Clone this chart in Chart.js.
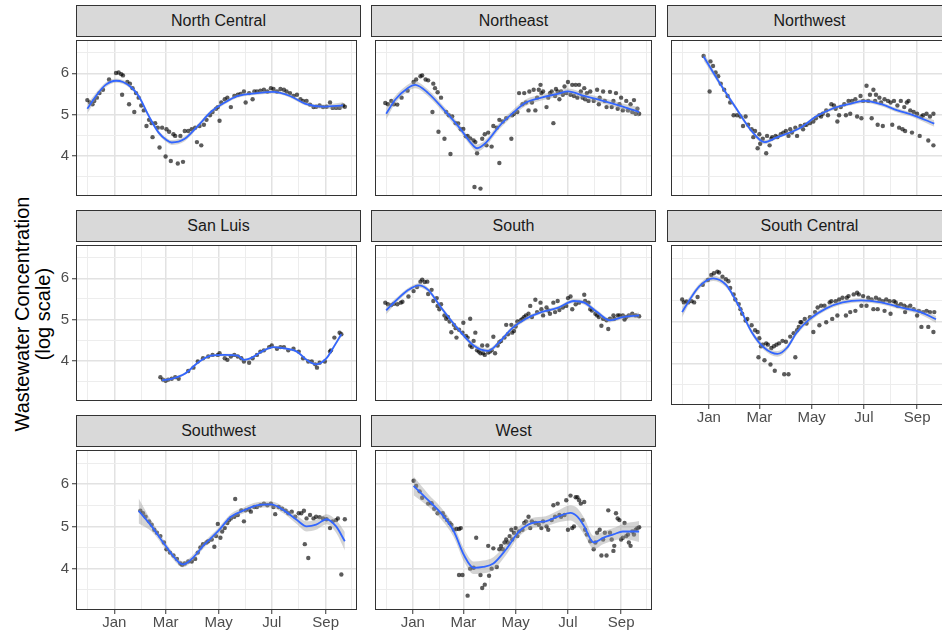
<!DOCTYPE html>
<html>
<head>
<meta charset="utf-8">
<script src="https://cdn.jsdelivr.net/npm/chart.js@4.4.0/dist/chart.umd.min.js"></script>
<style>
html, body { margin: 0; padding: 0; background: #fff; overflow: hidden; }
#wrap { position: relative; width: 942px; height: 636px; overflow: hidden; font-family: 'Liberation Sans', Arial, sans-serif; }
.strip { position: absolute; box-sizing: border-box; height: 32px; background: #D9D9D9; border: 1px solid #333;
         color: #1A1A1A; font-size: 16px; text-align: center; line-height: 30px; }
canvas { position: absolute; }
#ytitle { position: absolute; left: 33px; top: 314px; transform: translate(-50%, -50%) rotate(-90deg);
          font-size: 20px; line-height: 21px; text-align: center; white-space: nowrap; color: #000; }
</style>
</head>
<body>
<div id="wrap">
  <div id="ytitle">Wastewater Concentration<br>(log scale)</div>
</div>
<script>
// ── Data: x = days since 1 Jan 2022, y = log concentration ─────────────────
const monthDays   = [-31, 0, 31, 59, 90, 120, 151, 181, 212, 243, 273];
const monthLabels = ['', 'Jan', '', 'Mar', '', 'May', '', 'Jul', '', 'Sep', ''];
const yGrid       = [3.5, 4, 4.5, 5, 5.5, 6, 6.5];
const yLabels     = ['', '4', '', '5', '', '6', ''];

// North Central
const ncDays = [-31,-28,-25,-23,-20,-17,-13,-6,2,5,8,10,9,15,18,17,21,23,25,28,31,34,37,40,43,44,47,50,52,55,59,60,63,65,68,70,73,76,79,81,85,89,93,95,98,100,103,106,110,113,117,121,119,123,127,130,134,138,142,145,149,151,155,159,161,164,168,172,176,180,183,187,191,195,198,202,206,210,214,217,221,225,229,232,236,240,244,248,251,255,259,263,265];
const ncVals = [5.35,5.29,5.25,5.33,5.41,5.52,5.60,5.85,6.01,6.02,5.98,5.95,5.48,5.79,5.75,5.25,5.64,5.06,5.52,5.41,5.22,5.10,4.72,4.87,4.79,4.45,4.79,4.68,4.20,4.68,3.98,4.64,4.58,3.87,4.52,4.48,3.81,4.48,3.85,4.60,4.60,4.64,4.68,4.33,4.72,4.25,4.75,4.87,4.98,5.06,5.14,4.85,5.18,5.29,5.37,5.41,5.18,5.45,5.48,5.50,5.56,5.29,5.52,5.37,5.56,5.56,5.58,5.60,5.56,5.64,5.62,5.56,5.62,5.60,5.56,5.52,5.45,5.48,5.37,5.33,5.33,5.24,5.18,5.19,5.22,5.18,5.19,5.29,5.16,5.16,5.16,5.22,5.19];
const ncFitDays = [-31,-20,-10,2,10,20,28,40,51,60,66,81,96,111,127,142,164,183,202,221,240,263];
const ncFit     = [5.14,5.48,5.72,5.82,5.79,5.65,5.45,4.95,4.56,4.38,4.32,4.41,4.72,5.06,5.29,5.45,5.52,5.55,5.45,5.25,5.19,5.22];
const ncBand    = [0.12,0.07,0.06,0.05,0.05,0.05,0.05,0.05,0.05,0.05,0.06,0.06,0.05,0.05,0.04,0.04,0.04,0.04,0.04,0.04,0.05,0.08];

// Northeast
const neDays = [-32,-29,-25,-22,-18,-13,-6,1,4,9,11,15,18,23,24,26,29,30,33,37,39,42,44,46,50,53,56,59,62,64,67,71,73,75,72,79,81,84,86,88,92,94,98,101,101,105,109,115,116,118,122,124,128,130,132,135,136,139,141,143,145,147,149,150,152,156,158,160,162,164,166,167,169,171,173,175,177,179,181,184,186,188,190,192,194,196,198,200,201,203,205,207,211,215,217,218,222,224,226,230,232,234,237,239,241,243,245,249,251,254,256,258,260,262,264];
const neVals = [5.28,5.25,5.33,5.25,5.24,5.41,5.58,5.79,5.85,5.93,5.95,5.85,5.83,5.06,5.75,5.64,5.54,4.58,5.41,4.41,5.06,4.98,4.04,4.95,4.79,4.78,4.64,4.65,4.47,4.48,4.42,4.37,4.33,4.06,3.24,3.20,4.41,4.52,4.25,4.56,4.22,4.72,4.68,3.82,4.87,4.83,4.91,4.41,4.98,5.02,5.06,5.52,5.25,5.52,5.29,5.10,5.56,5.29,5.60,5.10,5.41,5.60,5.72,5.52,5.56,5.18,5.41,5.52,5.56,4.79,5.45,5.62,5.56,5.37,5.56,5.48,5.68,5.52,5.79,5.48,5.72,5.45,5.72,5.41,5.72,5.56,5.41,5.64,5.37,5.52,5.33,5.56,5.33,5.60,5.25,5.41,5.56,5.33,5.18,5.55,5.18,5.33,5.52,5.14,5.25,5.41,5.10,5.33,5.10,5.25,5.06,5.35,5.02,5.14,5.02];
const neFitDays = [-31,-20,-6,3,18,37,56,67,75,86,101,116,132,150,169,181,200,222,245,264];
const neFit     = [5.02,5.37,5.64,5.72,5.52,5.10,4.64,4.33,4.18,4.33,4.72,5.02,5.29,5.41,5.50,5.56,5.45,5.33,5.19,5.06];
const neBand    = [0.14,0.09,0.08,0.08,0.08,0.08,0.08,0.08,0.09,0.08,0.08,0.08,0.08,0.07,0.07,0.07,0.07,0.07,0.08,0.12];

// Northwest
const nwDays = [-6,1,2,5,8,11,14,18,22,25,29,33,37,40,43,46,50,52,54,57,59,60,63,67,68,71,73,74,78,80,84,87,90,93,95,97,101,103,107,110,112,114,118,122,125,129,131,133,137,139,143,146,148,150,152,154,158,160,163,165,167,171,173,177,178,180,184,186,188,190,192,194,195,197,199,201,203,205,209,212,214,216,220,222,224,226,228,229,231,233,235,237,239,243,246,248,250,254,256,258,262,262];
const nwVals = [6.42,5.56,6.29,6.18,6.02,5.93,5.75,5.60,5.45,5.29,4.98,4.98,4.95,4.72,4.95,4.75,4.64,4.45,4.60,4.18,4.52,4.29,4.41,4.06,4.48,4.25,4.41,4.45,4.48,4.45,4.52,4.56,4.60,4.48,4.64,4.56,4.68,4.48,4.72,4.64,4.75,4.75,4.79,4.83,4.91,4.98,4.95,5.02,5.10,4.98,5.25,5.22,5.14,4.83,4.98,5.18,5.25,4.98,5.33,5.02,5.33,5.37,4.95,5.45,4.91,5.33,5.70,5.33,5.48,4.91,5.60,5.33,5.48,4.75,5.41,5.29,4.72,5.37,5.33,5.29,4.75,5.33,5.22,4.68,5.33,4.64,5.18,4.60,5.29,5.33,5.10,4.56,5.06,5.02,4.48,4.95,4.98,5.02,4.37,4.95,5.02,4.25];
const nwFitDays = [-6,12,31,50,65,80,107,125,144,163,182,201,220,239,263];
const nwFit     = [6.41,5.79,5.18,4.60,4.33,4.45,4.68,4.95,5.14,5.25,5.33,5.25,5.10,4.98,4.78];
const nwBand    = [0.10,0.06,0.05,0.05,0.05,0.04,0.04,0.04,0.04,0.04,0.05,0.05,0.05,0.05,0.08];

// San Luis
const slDays = [53,56,59,62,66,70,74,85,91,96,102,108,113,119,121,127,130,134,138,142,146,149,155,159,164,168,172,178,181,187,191,195,200,206,212,217,223,227,231,233,236,242,248,249,253,259,261];
const slVals = [3.60,3.54,3.51,3.54,3.56,3.60,3.56,3.75,3.83,3.98,4.06,4.10,4.14,4.14,4.18,4.06,4.02,4.10,4.14,4.10,4.06,3.98,3.95,4.06,4.14,4.22,4.25,4.33,4.37,4.29,4.33,4.33,4.25,4.29,4.22,4.06,3.98,3.98,3.91,3.83,3.95,3.98,4.22,4.25,4.56,4.68,4.64];
const slFitDays = [55,66,81,96,111,127,142,149,157,172,183,198,210,221,232,244,251,261];
const slFit     = [3.52,3.56,3.68,3.95,4.12,4.14,4.12,4.02,4.06,4.25,4.33,4.29,4.22,4.02,3.91,4.06,4.29,4.64];
const slBand    = [0.05,0.03,0.03,0.03,0.03,0.03,0.03,0.03,0.03,0.03,0.03,0.03,0.03,0.03,0.03,0.03,0.04,0.06];

// South
const soDays = [-32,-29,-25,-22,-18,-14,-12,-5,1,5,9,11,14,17,18,22,24,28,29,31,33,37,39,41,43,45,48,50,51,54,58,59,62,64,67,67,69,71,73,75,77,79,81,82,84,87,88,90,92,94,96,99,101,103,107,109,111,115,116,118,120,122,126,128,130,132,135,137,139,143,145,149,150,152,156,158,160,164,166,169,171,175,179,181,184,186,190,194,200,201,205,207,209,213,215,217,220,222,226,228,230,234,235,239,241,245,247,249,252,256,260,264];
const soVals = [5.41,5.37,5.35,5.38,5.37,5.41,5.43,5.56,5.69,5.79,5.92,5.97,5.91,5.92,5.62,5.72,5.45,5.52,5.33,5.25,5.37,5.10,5.02,5.06,4.95,4.69,4.87,4.79,4.56,4.75,4.68,4.92,4.60,4.56,5.02,4.37,4.33,4.48,4.68,4.25,4.22,4.18,4.37,4.18,4.14,4.37,4.20,4.22,4.25,4.58,4.18,4.37,4.45,4.48,4.56,4.87,4.64,4.87,4.68,4.72,4.83,4.95,4.98,5.02,5.06,5.10,5.14,5.33,5.06,5.48,5.18,5.41,5.25,5.10,5.29,5.22,5.14,5.41,5.18,5.45,5.23,5.29,5.33,5.52,5.56,5.25,5.37,5.41,5.60,5.45,5.41,5.25,5.22,5.14,5.10,5.06,4.85,5.02,4.98,4.77,5.02,5.10,5.02,5.10,5.10,5.10,5.00,5.06,5.10,5.14,5.10,5.08];
const soFitDays = [-31,-20,-5,7,18,33,52,71,88,101,116,132,150,169,188,200,215,230,245,264];
const soFit     = [5.22,5.45,5.72,5.83,5.72,5.29,4.79,4.37,4.24,4.45,4.79,5.02,5.18,5.28,5.45,5.41,5.18,4.98,5.06,5.10];
const soBand    = [0.10,0.06,0.05,0.05,0.05,0.05,0.05,0.05,0.05,0.05,0.05,0.05,0.04,0.04,0.05,0.05,0.05,0.05,0.05,0.07];

// South Central
const scDays = [-31,-29,-26,-24,-20,-17,-13,-7,-1,3,6,10,12,16,20,23,25,29,31,35,37,39,43,45,50,54,57,58,59,61,63,65,67,69,72,73,76,77,79,82,86,88,90,93,95,99,101,103,105,107,108,112,114,118,122,124,127,129,131,135,137,141,143,144,148,150,152,156,160,161,163,165,169,171,173,175,178,180,184,186,190,192,195,197,199,203,205,207,211,212,216,218,220,224,228,229,231,235,239,243,245,248,250,254,256,258,262,263];
const scVals = [5.52,5.45,5.47,5.45,5.48,5.45,5.58,5.87,5.98,6.10,6.14,6.18,6.16,6.06,6.00,5.95,5.79,5.64,5.52,5.41,5.29,5.18,5.02,5.06,4.91,4.79,4.75,4.15,4.60,4.41,4.45,4.08,4.48,4.45,3.98,4.37,4.41,3.83,4.45,4.48,4.54,3.75,4.52,3.75,4.64,4.72,4.15,4.79,4.87,4.98,4.98,5.06,4.95,5.10,4.75,5.22,5.33,4.91,5.37,5.37,4.98,5.45,5.48,5.06,5.48,5.14,5.52,5.56,5.14,5.56,5.60,5.22,5.64,5.25,5.68,5.64,5.37,5.60,5.37,5.56,5.52,5.29,5.56,5.29,5.52,5.48,5.25,5.52,5.48,5.18,5.48,5.45,5.37,5.41,5.37,5.22,5.33,5.37,5.29,5.14,5.25,4.87,5.22,5.25,4.87,5.22,4.75,5.22];
const scFitDays = [-31,-22,-11,5,20,35,50,65,80,91,103,118,137,156,178,201,224,247,265];
const scFit     = [5.22,5.52,5.83,6.02,5.87,5.37,4.75,4.37,4.23,4.37,4.75,5.06,5.31,5.45,5.50,5.45,5.33,5.22,5.05];
const scBand    = [0.12,0.07,0.06,0.06,0.06,0.06,0.06,0.06,0.07,0.06,0.06,0.06,0.05,0.05,0.05,0.05,0.05,0.06,0.08];

// Southwest
const swDays = [30,33,36,40,43,46,49,53,57,60,64,68,72,76,78,81,85,89,93,96,99,102,106,108,112,115,117,119,122,124,127,130,132,134,138,139,142,146,149,151,155,157,161,164,168,172,176,180,183,185,189,193,197,200,204,208,212,215,218,219,221,223,225,229,232,236,240,244,248,251,255,257,261,265];
const swVals = [5.37,5.31,5.23,5.12,5.04,4.92,4.85,4.77,4.62,4.46,4.38,4.31,4.23,4.12,4.09,4.12,4.17,4.17,4.23,4.38,4.50,4.58,4.62,4.65,4.69,4.52,4.77,5.06,4.73,4.88,4.96,5.08,5.15,5.19,5.23,5.65,5.27,5.38,5.12,5.38,5.40,5.35,5.46,5.46,5.50,5.54,5.50,5.54,5.46,5.29,5.46,5.42,5.37,5.31,5.35,5.23,5.31,5.31,5.37,4.58,5.19,4.25,5.27,5.19,5.23,5.22,5.19,5.17,4.96,5.12,5.15,5.19,3.86,5.17];
const swFitDays = [28,43,59,74,79,89,104,119,134,149,164,180,195,210,221,232,244,255,265];
const swFit     = [5.37,5.00,4.54,4.15,4.10,4.23,4.58,4.88,5.23,5.38,5.50,5.52,5.38,5.15,5.00,5.04,5.17,5.00,4.65];
const swBand    = [0.30,0.12,0.08,0.07,0.07,0.07,0.07,0.07,0.07,0.07,0.07,0.07,0.08,0.10,0.12,0.12,0.12,0.15,0.22];

// West
const wDays = [1,4,8,11,18,22,25,29,35,37,40,43,45,48,51,54,56,54,58,64,67,71,74,79,81,84,88,89,92,94,98,101,103,105,107,109,111,113,115,116,118,120,122,124,128,130,132,135,137,139,143,147,150,152,156,158,162,164,166,169,171,173,177,179,181,184,186,188,190,192,194,196,198,200,201,203,207,211,213,215,218,220,222,224,226,228,230,232,234,235,237,239,241,243,245,247,249,251,252,254,256,258,260,262,264];
const wVals = [6.08,5.96,5.83,5.68,5.54,5.55,5.42,5.31,5.31,5.23,5.15,5.08,5.04,4.92,4.94,4.94,4.96,3.85,3.85,3.36,4.00,4.02,4.73,3.85,3.54,3.62,4.54,3.83,4.00,4.48,4.04,4.46,4.54,4.46,4.62,4.69,4.62,4.77,4.92,4.69,4.85,4.96,4.77,4.88,4.92,5.08,5.12,5.23,4.96,5.12,5.08,5.04,4.96,5.12,5.00,4.92,5.15,5.50,5.23,5.54,5.27,5.23,5.27,5.62,4.92,5.73,4.96,5.00,5.69,5.69,5.62,5.54,5.15,5.58,4.92,4.81,4.65,4.46,4.62,4.85,4.92,4.31,4.69,4.85,4.31,5.38,4.85,4.69,4.42,4.54,5.31,5.19,5.15,4.69,4.73,5.08,4.77,4.81,4.62,4.54,4.88,4.81,4.92,4.96,4.98];
const wFitDays = [1,18,33,48,60,71,82,94,109,124,139,155,169,184,192,200,211,222,234,245,264];
const wFit     = [5.96,5.62,5.31,4.88,4.31,4.02,4.04,4.12,4.46,4.88,5.08,5.12,5.23,5.32,5.23,5.00,4.62,4.73,4.81,4.88,4.88];
const wBand    = [0.22,0.15,0.14,0.14,0.15,0.15,0.15,0.15,0.13,0.12,0.12,0.12,0.14,0.18,0.20,0.20,0.16,0.15,0.15,0.18,0.25];

// ── Layout ────────────────────────────────────────────────────────────────
const COL_X = [76, 371, 667];
const ROW_Y = [5, 210, 415];
const STRIP_H = 31, PANEL_W = 285, PANEL_H = 164;
const X_MIN = -44, X_MAX = 279, Y_MIN = 3.02, Y_MAX = 6.81;
const FONT = "'Liberation Sans', Arial, sans-serif";

const panels = [
    { name: 'North Central', col: 0, row: 0, d: ncDays, v: ncVals, fd: ncFitDays, f: ncFit, b: ncBand },
    { name: 'Northeast',     col: 1, row: 0, d: neDays, v: neVals, fd: neFitDays, f: neFit, b: neBand },
    { name: 'Northwest',     col: 2, row: 0, d: nwDays, v: nwVals, fd: nwFitDays, f: nwFit, b: nwBand },
    { name: 'San Luis',      col: 0, row: 1, d: slDays, v: slVals, fd: slFitDays, f: slFit, b: slBand },
    { name: 'South',         col: 1, row: 1, d: soDays, v: soVals, fd: soFitDays, f: soFit, b: soBand },
    { name: 'South Central', col: 2, row: 1, d: scDays, v: scVals, fd: scFitDays, f: scFit, b: scBand, xLab: true },
    { name: 'Southwest',     col: 0, row: 2, d: swDays, v: swVals, fd: swFitDays, f: swFit, b: swBand, xLab: true },
    { name: 'West',          col: 1, row: 2, d: wDays,  v: wVals,  fd: wFitDays,  f: wFit,  b: wBand,  xLab: true },
];

const panelBorder = {
    id: 'panelBorder',
    afterDraw(chart) {
        const { ctx, chartArea: a } = chart;
        ctx.save();
        ctx.strokeStyle = '#333';
        ctx.lineWidth = 1;
        ctx.strokeRect(a.left + 0.5, a.top + 0.5, a.width - 1, a.height - 1);
        ctx.restore();
    },
};

const xy = (xs, ys) => xs.map((x, i) => ({ x, y: ys[i] })).filter(p => p.y !== undefined);
const isMajorX = v => monthLabels[monthDays.indexOf(v)] !== '';
const isMajorY = v => Number.isInteger(v);

function buildPanel(p) {
    const wrap = document.getElementById('wrap');
    const showY = p.col === 0, showX = !!p.xLab;
    const yw = showY ? 38 : 0, xh = showX ? 26 : 0;

    const strip = document.createElement('div');
    strip.className = 'strip';
    strip.style.left = COL_X[p.col] + 'px';
    strip.style.top = ROW_Y[p.row] + 'px';
    strip.style.width = PANEL_W + 'px';
    strip.textContent = p.name;
    wrap.appendChild(strip);

    const cv = document.createElement('canvas');
    cv.width = PANEL_W + yw;
    cv.height = PANEL_H + xh;
    cv.style.left = (COL_X[p.col] - yw) + 'px';
    cv.style.top = (ROW_Y[p.row] + STRIP_H) + 'px';
    wrap.appendChild(cv);

    const hi = p.f.map((y, i) => +(y + p.b[i]).toFixed(3));
    const lo = p.f.map((y, i) => +(y - p.b[i]).toFixed(3));

    new Chart(cv.getContext('2d'), {
        type: 'scatter',
        data: {
            datasets: [
                { type: 'line', data: xy(p.fd, p.f), borderColor: '#3366FF', borderWidth: 1.8, pointRadius: 0,
                  cubicInterpolationMode: 'monotone', fill: false, order: 0 },
                { type: 'line', data: xy(p.fd, hi), borderColor: 'rgba(0,0,0,0)', borderWidth: 0, pointRadius: 0,
                  cubicInterpolationMode: 'monotone', fill: '+1', backgroundColor: 'rgba(153,153,153,0.42)', order: 1 },
                { type: 'line', data: xy(p.fd, lo), borderColor: 'rgba(0,0,0,0)', borderWidth: 0, pointRadius: 0,
                  cubicInterpolationMode: 'monotone', fill: false, order: 1 },
                { type: 'scatter', data: xy(p.d, p.v), pointRadius: 2.2, pointBorderWidth: 0,
                  backgroundColor: 'rgba(0,0,0,0.64)', order: 2 },
            ],
        },
        options: {
            responsive: false, animation: false, events: [],
            layout: { padding: 0 },
            plugins: { legend: { display: false }, tooltip: { enabled: false } },
            scales: {
                x: {
                    type: 'linear', min: X_MIN, max: X_MAX,
                    afterBuildTicks: s => { s.ticks = monthDays.map(v => ({ value: v })); },
                    afterFit: s => { s.height = xh; s.paddingLeft = 0; s.paddingRight = 0; },
                    ticks: { display: showX, autoSkip: false, maxRotation: 0, padding: 0, color: '#4D4D4D',
                             font: { family: FONT, size: 15 },
                             callback: v => monthLabels[monthDays.indexOf(v)] ?? '' },
                    grid: { color: c => isMajorX(c.tick.value) ? '#E2E2E2' : '#EDEDED',
                            lineWidth: c => isMajorX(c.tick.value) ? 1.5 : 1,
                            drawTicks: showX, tickLength: 4, tickWidth: 1,
                            tickColor: c => isMajorX(c.tick.value) ? '#333' : 'rgba(0,0,0,0)' },
                    border: { display: false },
                },
                y: {
                    type: 'linear', min: Y_MIN, max: Y_MAX,
                    afterBuildTicks: s => { s.ticks = yGrid.map(v => ({ value: v })); },
                    afterFit: s => { s.width = yw; s.paddingTop = 0; s.paddingBottom = 0; },
                    ticks: { display: showY, padding: 3, color: '#4D4D4D', font: { family: FONT, size: 15 },
                             callback: v => yLabels[yGrid.indexOf(v)] ?? '' },
                    grid: { color: c => isMajorY(c.tick.value) ? '#E2E2E2' : '#EDEDED',
                            lineWidth: c => isMajorY(c.tick.value) ? 1.5 : 1,
                            drawTicks: showY, tickLength: 4, tickWidth: 1,
                            tickColor: c => isMajorY(c.tick.value) ? '#333' : 'rgba(0,0,0,0)' },
                    border: { display: false },
                },
            },
        },
        plugins: [panelBorder],
    });
}

panels.forEach(buildPanel);
</script>
</body>
</html>
